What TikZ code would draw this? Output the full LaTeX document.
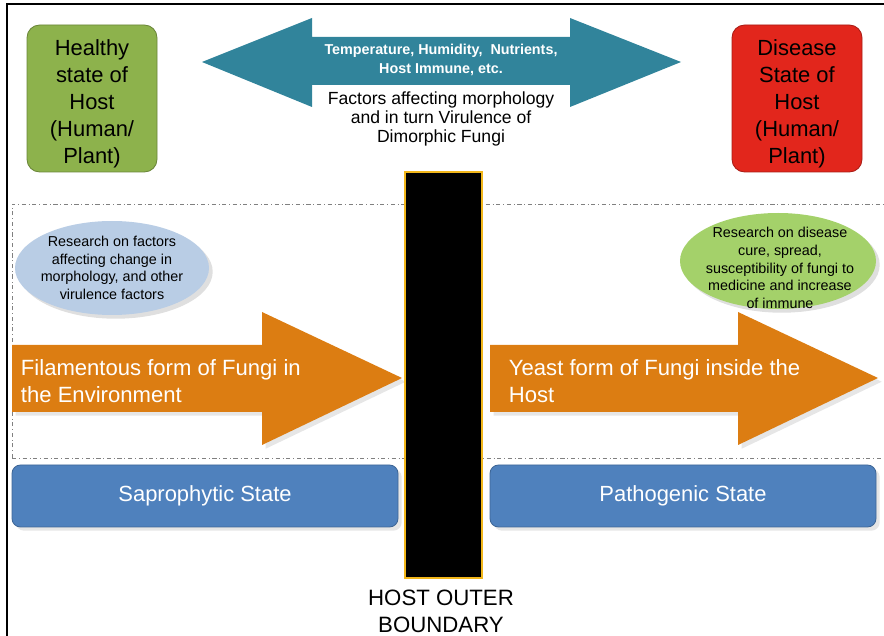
\documentclass[tikz,border=0pt]{standalone}
\usepackage{fontspec}
\setmainfont{Liberation Sans}
\usetikzlibrary{shapes.geometric,shadows}

\definecolor{healthgreen}{HTML}{8DB24C}
\definecolor{diseasered}{HTML}{E2261C}
\definecolor{factorteal}{HTML}{31849B}
\definecolor{researchblue}{HTML}{B9CDE5}
\definecolor{researchgreen}{HTML}{A4D16A}
\definecolor{fungiorange}{HTML}{DC7D12}
\definecolor{stateblue}{HTML}{4F81BD}
\definecolor{boundgold}{HTML}{F2B71B}

\begin{document}
\begin{tikzpicture}[x=0.025cm, y=-0.025cm,
    hostbox/.style={draw=#1!75!black, line width=.6pt, fill=#1, rounded corners=9pt,
      minimum width=130*0.025cm, minimum height=147*0.025cm},
    hosttext/.style={align=center, font=\fontsize{15.6}{19.2}\selectfont},
    research/.style={ellipse, fill=#1, drop shadow={opacity=.25}},
    smalltext/.style={align=center, font=\fontsize{10.2}{12.5}\selectfont},
    fungitext/.style={align=left, text=white, anchor=west, font=\fontsize{15.7}{19.2}\selectfont},
    statebox/.style={draw=stateblue!80!black, line width=.6pt, fill=stateblue, rounded corners=6pt,
      minimum width=386*0.025cm, minimum height=62*0.025cm, text=white,
      font=\fontsize{15.6}{17}\selectfont, drop shadow={opacity=.2}},
    guide/.style={gray, line width=.5pt, dash dot}]
  \useasboundingbox (0,0) rectangle (884,636);

  %%frame
  \draw[line width=1.4pt] (7,636) -- (7,4) -- (884,4);

  %%host states
  \node[hostbox=healthgreen] (healthy) at (92,98.5) {};
  \node[hosttext] (healthytext) at (92,104) {Healthy\\state of\\Host\\(Human/\\Plant)};
  \node[hostbox=diseasered] (disease) at (797,98.5) {};
  \node[hosttext] (diseasetext) at (797,104) {Disease\\State of\\Host\\(Human/\\Plant)};

  %%factors arrow
  \fill[factorteal] (202,62) -- (312,18) -- (312,37) -- (570,37) -- (570,18) -- (681,62)
    -- (570,107) -- (570,85) -- (312,85) -- (312,107) -- cycle;
  \node[text=white, align=center, font=\bfseries\fontsize{10.2}{14}\selectfont] (factors) at (441,60)
    {Temperature, Humidity,\ \ Nutrients,\\Host Immune, etc.};
  \node[align=center, font=\fontsize{12.5}{13.6}\selectfont] (morph) at (441,119)
    {Factors affecting morphology\\and in turn Virulence of\\Dimorphic Fungi};

  %%region guide
  \draw[guide] (12,458) -- (12,204) -- (884,204);
  \draw[guide] (12,458) -- (884,458);

  %%research
  \node[research=researchblue, minimum width=194*0.025cm, minimum height=94*0.025cm] (resleft) at (112,268) {};
  \node[smalltext] (reslefttext) at (resleft) {Research on factors\\affecting change in\\morphology, and other\\virulence factors};
  \node[research=researchgreen, minimum width=196*0.025cm, minimum height=96*0.025cm] (resright) at (778,261) {};
  \node[smalltext] (resrighttext) at (780,268) {Research on disease\\cure, spread,\\susceptibility of fungi to\\medicine and increase\\of immune};

  %%fungi forms
  \fill[fungiorange, drop shadow={opacity=.2}] (12,345) -- (262,345) -- (262,312) -- (402,378)
    -- (262,445) -- (262,412) -- (12,412) -- cycle;
  \node[fungitext] (filament) at (16,381) {Filamentous form of Fungi in\\the Environment};
  \fill[fungiorange, drop shadow={opacity=.2}] (490,345) -- (738,345) -- (738,312) -- (878,378)
    -- (738,445) -- (738,412) -- (490,412) -- cycle;
  \node[fungitext] (yeast) at (504,381) {Yeast form of Fungi inside the\\Host};

  %%states
  \node[statebox] (sapro) at (205,496) {Saprophytic State};
  \node[statebox] (patho) at (683,496) {Pathogenic State};

  %%host boundary
  \filldraw[fill=black, draw=boundgold, line width=1.2pt] (405,172) rectangle (482,578);
  \node[align=center, font=\fontsize{15.8}{19.2}\selectfont] (boundary) at (441,611) {HOST OUTER\\BOUNDARY};
\end{tikzpicture}
\end{document}
